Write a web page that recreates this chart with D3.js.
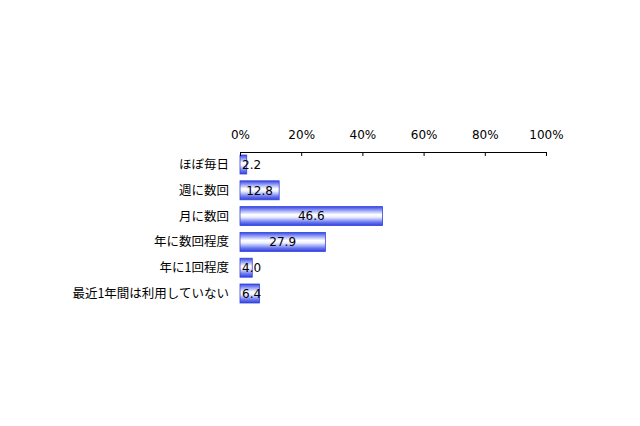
<!DOCTYPE html>
<html>
<head>
<meta charset="utf-8">
<script src="https://cdn.jsdelivr.net/npm/d3@7"></script>
<style>
  html, body { margin: 0; padding: 0; background: #ffffff; }
  svg { display: block; }
  text { font-family: "Noto Sans CJK JP", "DejaVu Sans", sans-serif; }
</style>
</head>
<body>
<svg id="chart" width="640" height="426"></svg>
<script>
const categories = ["ほぼ毎日", "週に数回", "月に数回", "年に数回程度", "年に1回程度", "最近1年間は利用していない"];
const values = [2.2, 12.8, 46.6, 27.9, 4.0, 6.4];
const tickValues = [0, 20, 40, 60, 80, 100];
const tickLabels = ["0%", "20%", "40%", "60%", "80%", "100%"];

const svg = d3.select("#chart");

const x = d3.scaleLinear().domain([0, 100]).range([240, 546]);
const y = d3.scaleBand().domain(categories).range([151.6, 306.4]).paddingInner(0.264).paddingOuter(0.132);

const defs = svg.append("defs");
const grad = defs.append("linearGradient").attr("id", "barGrad")
  .attr("x1", 0).attr("y1", 0).attr("x2", 0).attr("y2", 1);
grad.append("stop").attr("offset", "0%").attr("stop-color", "#3545e6");
grad.append("stop").attr("offset", "15%").attr("stop-color", "#7f8bf2");
grad.append("stop").attr("offset", "42%").attr("stop-color", "#ffffff");
grad.append("stop").attr("offset", "55%").attr("stop-color", "#eef0ff");
grad.append("stop").attr("offset", "82%").attr("stop-color", "#6c79ef");
grad.append("stop").attr("offset", "100%").attr("stop-color", "#2f3fe4");

// bars
const data = categories.map((c, i) => ({ c, v: values[i] }));
svg.append("g").selectAll("rect").data(data).join("rect")
  .attr("x", d => x(0))
  .attr("y", d => y(d.c))
  .attr("width", d => x(d.v) - x(0))
  .attr("height", y.bandwidth())
  .attr("fill", "url(#barGrad)")
  .attr("stroke", "#3343dc")
  .attr("stroke-width", 0.8);

// axis at top
const axis = d3.axisTop(x).tickValues(tickValues)
  .tickFormat((d, i) => tickLabels[i])
  .tickSizeInner(-4).tickSizeOuter(0);
const ag = svg.append("g").attr("transform", "translate(0,152)").call(axis);
ag.select(".domain").attr("stroke", "#000").attr("stroke-width", 1);
ag.selectAll(".tick line").attr("stroke", "#000");
ag.selectAll(".tick text")
  .attr("y", -13).attr("dy", 0)
  .attr("fill", "#000")
  .style("font-family", "'DejaVu Sans', sans-serif")
  .style("font-size", "12px");

// category labels
svg.append("g").selectAll("text").data(data).join("text")
  .attr("x", 229)
  .attr("y", d => y(d.c) + y.bandwidth() / 2)
  .attr("dy", "0.36em")
  .attr("text-anchor", "end")
  .attr("fill", "#000")
  .style("font-size", "12.5px")
  .text(d => d.c);

// value labels
const vl = svg.append("g").selectAll("text").data(data).join("text")
  .attr("y", d => y(d.c) + y.bandwidth() / 2)
  .attr("dy", "0.36em")
  .attr("text-anchor", "middle")
  .attr("fill", "#000")
  .style("font-family", "'DejaVu Sans', sans-serif")
  .style("font-size", "12px")
  .text(d => d.v.toFixed(1));
vl.each(function(d) {
  const w = this.getComputedTextLength();
  const cx = (x(0) + x(d.v)) / 2;
  d3.select(this).attr("x", Math.max(cx, x(0) + 2 + w / 2));
});
</script>
</body>
</html>
